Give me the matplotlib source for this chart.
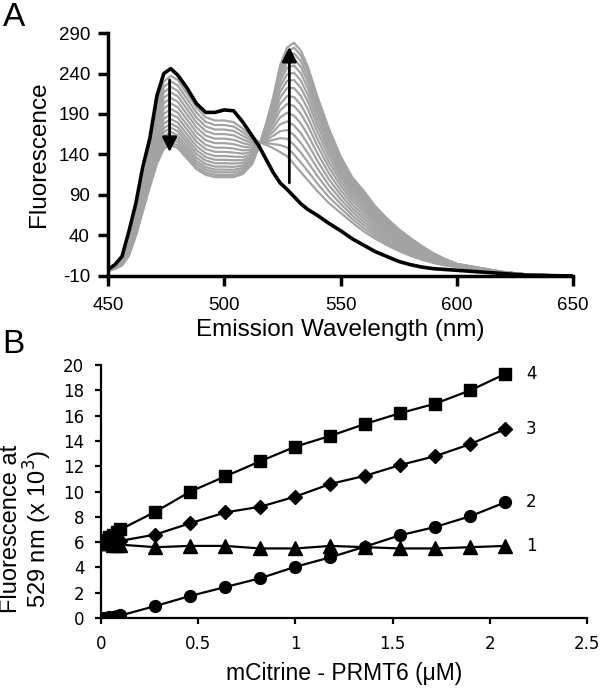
import matplotlib
matplotlib.use("Agg")
import matplotlib.pyplot as plt
import numpy as np

plt.rcParams['axes.unicode_minus'] = False

# ---- panel A: emission spectra ----
wavelength = [450, 453, 456, 459, 462, 465, 468, 471, 474, 477, 480, 484, 488, 492, 496,
              500, 504, 508, 512, 515, 518, 521, 524, 527, 530, 533, 536, 540, 545, 550,
              555, 560, 565, 570, 575, 580, 585, 590, 595, 600, 610, 620, 630, 640, 650]

# donor only (black curve)
donor_only = [-2, 4, 14, 45, 80, 125, 160, 212, 240, 246, 238, 222, 203, 192, 192,
              195, 194, 180, 163, 150, 134, 118, 105, 97, 88, 79, 72, 65, 55, 46,
              36, 28, 20, 14, 8, 4, 1, -1, -2, -3, -5, -7, -9, -9.5, -10]

# first grey spectrum of the titration
first_step = [-3, 1, 8, 30, 65, 105, 150, 200, 230, 237, 232, 215, 198, 186, 182,
              182, 180, 172, 162, 155, 152, 148, 143, 138, 128, 118, 108, 95, 80, 68,
              56, 45, 36, 28, 21, 15, 10, 6, 3, 1, -3, -6, -8, -9, -10]

# last grey spectrum of the titration
last_step = [-4, -1, 3, 15, 40, 70, 100, 128, 147, 152, 148, 135, 122, 115, 112,
             112, 112, 116, 128, 150, 178, 210, 250, 272, 278, 268, 248, 212, 172, 138,
             112, 95, 76, 61, 48, 37, 27, 18, 11, 5, 0, -5, -8, -9, -10]

# height at 530 nm of each grey spectrum
peak_530 = [128, 140, 152, 164, 176, 188, 200, 211, 222, 232, 241, 250, 258, 265, 272, 278]

# arrows (x, y_start, y_end)
arrow_down = (476.5, 232, 143)
arrow_up = (528, 105, 273)

# ---- panel B: fluorescence at 529 nm ----
conc = [0, 0.02, 0.04, 0.06, 0.08, 0.1, 0.28, 0.46, 0.64, 0.82, 1.0,
        1.18, 1.36, 1.54, 1.72, 1.9, 2.08]
series1 = [5.9, 5.9, 5.9, 5.8, 5.8, 5.8, 5.6, 5.7, 5.7, 5.5, 5.5,
           5.7, 5.6, 5.5, 5.5, 5.6, 5.7]
series2 = [0, 0, 0.05, 0.1, 0.15, 0.2, 0.95, 1.75, 2.45, 3.15, 4.05,
           4.8, 5.65, 6.55, 7.2, 8.05, 9.15]
series3 = [6.0, 6.0, 6.0, 6.0, 6.0, 6.1, 6.6, 7.5, 8.35, 8.8, 9.6,
           10.6, 11.25, 12.1, 12.8, 13.75, 14.95]
series4 = [6.1, 6.2, 6.4, 6.6, 6.8, 7.0, 8.4, 10.0, 11.2, 12.4, 13.55,
           14.4, 15.35, 16.2, 16.95, 18.0, 19.3]
series_labels = ['1', '2', '3', '4']

fig = plt.figure(figsize=(6, 6.92), dpi=100)

# ---------------- A ----------------
ax1 = fig.add_axes([0.18, 0.6012, 0.775, 0.3511])
first = np.array(first_step)
last = np.array(last_step)
for p in peak_530:
    f = (p - peak_530[0]) / (peak_530[-1] - peak_530[0])
    ax1.plot(wavelength, first + f * (last - first), color='#a3a3a3', lw=1.6)
ax1.plot(wavelength, donor_only, color='k', lw=2.6)

for x, y0, y1 in [arrow_down, arrow_up]:
    ax1.annotate('', xy=(x, y1), xytext=(x, y0),
                 arrowprops=dict(arrowstyle='-|>', color='k', lw=2,
                                 mutation_scale=22, shrinkA=0, shrinkB=0))

ax1.set_xlim(450, 650)
ax1.set_ylim(-10, 290)
ax1.set_xticks(range(450, 651, 50))
ax1.set_yticks(range(-10, 291, 50))
for s in ['top', 'right']:
    ax1.spines[s].set_visible(False)
for s in ['left', 'bottom']:
    ax1.spines[s].set_linewidth(2.5)
ax1.tick_params(direction='out', length=7, width=2.5, labelsize=13.5, pad=6)
ax1.tick_params(axis='x', pad=8)
for t in ax1.get_xticklabels() + ax1.get_yticklabels():
    t.set_family('Liberation Sans')
ax1.set_xlabel('Emission Wavelength (nm)', fontsize=17.5, family='Liberation Sans', labelpad=4)
ax1.set_ylabel('Fluorescence', fontsize=17.5, family='Liberation Sans', labelpad=6)

# ---------------- B ----------------
ax2 = fig.add_axes([0.1683, 0.1069, 0.81, 0.3656])
styles = [(series1, '^', 10), (series2, 'o', 8.5), (series3, 'D', 7.5), (series4, 's', 8.5)]
for (vals, mk, ms), lab in zip(styles, series_labels):
    ax2.plot(conc, vals, color='k', lw=1.6, marker=mk, ms=ms)
    ax2.annotate(lab, xy=(conc[-1], vals[-1]), xytext=(15, 0), textcoords='offset points',
                 ha='left', va='center', fontsize=12)

ax2.set_xlim(0, 2.5)
ax2.set_ylim(0, 20)
ax2.set_xticks([0, 0.5, 1, 1.5, 2, 2.5])
ax2.set_xticklabels(['0', '0.5', '1', '1.5', '2', '2.5'])
ax2.set_yticks(range(0, 21, 2))
for s in ['top', 'right']:
    ax2.spines[s].set_visible(False)
for s in ['left', 'bottom']:
    ax2.spines[s].set_linewidth(1.6)
ax2.tick_params(direction='out', length=4, width=1.6, labelsize=12, pad=8)
ax2.set_xlabel('mCitrine - PRMT6 (\u03bcM)', fontsize=16.5, family='Liberation Sans', labelpad=7)
fig.text(0.045, 0.2355, 'Fluorescence at\n529 nm (x 10$^3$)', rotation=90,
         ha='center', va='center', fontsize=17, family='Liberation Sans',
         multialignment='center', linespacing=1.0)

fig.text(0.005, 0.997, 'A', fontsize=24, family='Liberation Sans', va='top', ha='left')
fig.text(0.003, 0.525, 'B', fontsize=24, family='Liberation Sans', va='top', ha='left')

fig.savefig('out.png', dpi=100)
